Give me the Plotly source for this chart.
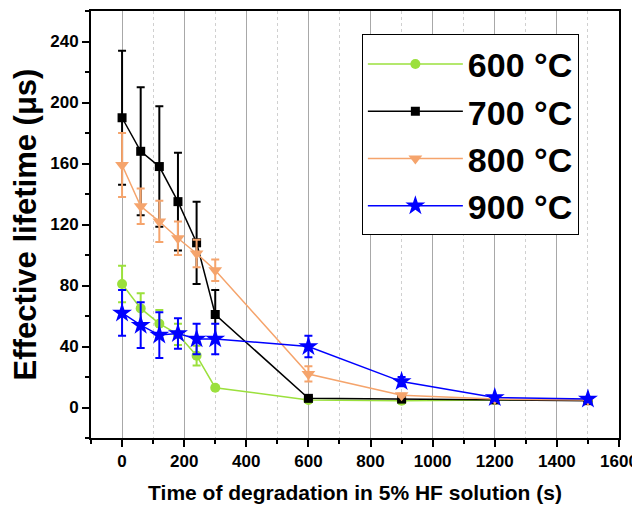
import plotly.graph_objects as go

# ---- data ----
time_s = [0, 60, 120, 180, 240, 300, 600, 900, 1200, 1500]

tau_600 = [81, 65, 55, 48, 34, 13, 5, 4.5, 5, 5]
err_600 = [12, 10, 9, 7, 6.5, 1, 0.5, 0.5, 0.5, 0.5]

tau_700 = [190, 168, 158, 135, 108, 61, 6, 5.5, 5, 4.5]
err_700 = [44, 42, 39.5, 32, 27, 16, 1, 0.5, 0.5, 0.5]

tau_800 = [159, 132, 122, 111, 101, 90, 22, 8, 5.5, 5]
err_800 = [21, 11.6, 13.5, 11, 9, 7, 5, 1, 0.5, 0.5]

tau_900 = [62, 54, 47.5, 48.5, 45, 45, 40, 17, 6.5, 5.5]
err_900 = [15, 15, 15, 10, 10, 10, 7, 3, 1, 1]

series_names = ["600 °C", "700 °C", "800 °C", "900 °C"]
x_tick_vals = [0, 200, 400, 600, 800, 1000, 1200, 1400, 1600]
y_tick_vals = [0, 40, 80, 120, 160, 200, 240]

# ---- styles ----
FONT = "Arial, Liberation Sans, sans-serif"
styles = [
    dict(color="#9be03c", symbol="circle", size=10),
    dict(color="#000000", symbol="square", size=9),
    dict(color="#f5a46c", symbol="triangle-down", size=12),
    dict(color="#0000ff", symbol="star", size=15),
]
values = [tau_600, tau_700, tau_800, tau_900]
errors = [err_600, err_700, err_800, err_900]

fig = go.Figure()
for name, vals, errs, st in zip(series_names, values, errors, styles):
    fig.add_trace(go.Scatter(
        x=time_s, y=vals, name=name, mode="lines+markers",
        line=dict(color=st["color"], width=1.5),
        marker=dict(color=st["color"], symbol=st["symbol"], size=st["size"],
                    line=dict(width=0)),
        error_y=dict(type="data", array=errs, visible=True,
                     color=st["color"], thickness=2, width=4),
    ))

# the page body adds an 8 px margin, so the figure is 8 px smaller
fig.update_layout(
    width=632, height=498,
    margin=dict(l=83, r=21, t=3, b=68),
    paper_bgcolor="white", plot_bgcolor="white",
    font=dict(family=FONT, color="black"),
    showlegend=True,
    legend=dict(
        x=0.513, y=0.945, xanchor="left", yanchor="top",
        bgcolor="white", bordercolor="black", borderwidth=1,
        font=dict(family=FONT, size=34, color="black", weight="bold"),
        itemwidth=95, tracegroupgap=0,
    ),
)

fig.update_xaxes(
    range=[-100, 1600], tickvals=x_tick_vals, automargin=False,
    ticks="outside", ticklen=7, tickwidth=2, tickcolor="black",
    showline=True, linecolor="black", linewidth=2, mirror=True,
    showgrid=True, gridcolor="#a8a8a8", gridwidth=1, zeroline=False,
    tickfont=dict(family=FONT, size=17, weight="bold"),
    minor=dict(dtick=100, tick0=0, ticks="outside", ticklen=4, tickwidth=1.5,
               tickcolor="black", showgrid=True, gridcolor="#d0d0d0",
               griddash="dot", gridwidth=1),
    title=dict(text="Time of degradation in 5% HF solution (s)",
               font=dict(family=FONT, size=21, weight="bold"), standoff=15),
)
fig.update_yaxes(
    range=[-20, 260], tickvals=y_tick_vals, automargin=False,
    ticks="outside", ticklen=7, tickwidth=2, tickcolor="black",
    showline=True, linecolor="black", linewidth=2, mirror=True,
    showgrid=False, zeroline=False,
    tickfont=dict(family=FONT, size=17, weight="bold"),
    minor=dict(dtick=20, tick0=0, ticks="outside", ticklen=4, tickwidth=1.5,
               tickcolor="black", showgrid=False),
    title=dict(text="Effective lifetime (μs)",
               font=dict(family=FONT, size=31, weight="bold"), standoff=8),
)

fig.write_html("out.html")
